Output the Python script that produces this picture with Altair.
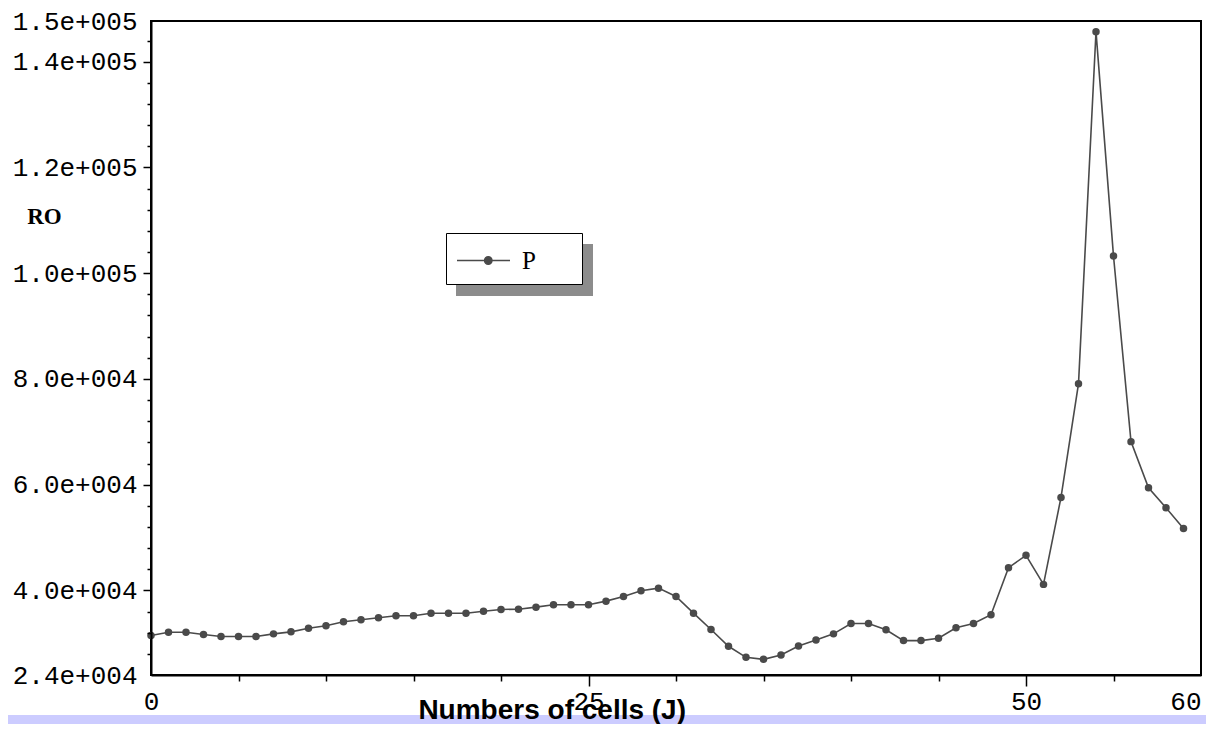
import altair as alt
import pandas as pd

# ---------------- data ----------------
cells = list(range(60))
ro_values = [
    31460, 32080, 32080, 31650, 31270, 31270, 31270, 31780, 32160, 32840,
    33300, 34060, 34440, 34820, 35200, 35200, 35690, 35690, 35690, 36070,
    36400, 36450, 36830, 37280, 37280, 37280, 37970, 38860, 39940, 40430,
    38860, 35690, 32600, 29430, 27340, 26960, 27800, 29500, 30640, 31780,
    33730, 33730, 32540, 30510, 30510, 30950, 32920, 33730, 35390, 44300,
    46640, 41140, 57590, 79090, 145680, 103250, 68140, 59410, 55620, 51700,
]
series = ["P"] * len(cells)

x_domain = [0, 60]
x_major_ticks = [0, 25, 50, 60]
x_minor_ticks = [5, 10, 15, 20, 30, 35, 40, 45, 55]

y_domain = [24000, 147700]
y_label_values = [24000, 40000, 60000, 80000, 100000, 120000, 140000, 147700]
y_label_texts = ["2.4e+004", "4.0e+004", "6.0e+004", "8.0e+004",
                 "1.0e+005", "1.2e+005", "1.4e+005", "1.5e+005"]
y_minor_ticks = [v for v in range(28000, 144001, 4000) if v not in y_label_values]

df = pd.DataFrame({"J": cells, "RO": ro_values, "series": series})

# ---------------- axis helpers ----------------
y_label_expr = " : ".join(
    f"datum.value == {v} ? '{t}'" for v, t in zip(y_label_values, y_label_texts)
) + " : ''"
y_hidden_test = f"datum.value == {y_label_values[0]} || datum.value == {y_label_values[-1]}"

LAV = "#ccccff"
MONO = "Liberation Mono"
x_scale = alt.Scale(domain=x_domain, nice=False, zero=False)
y_scale = alt.Scale(domain=y_domain, nice=False, zero=False)

x_major = alt.X(
    "J:Q",
    scale=x_scale,
    axis=alt.Axis(
        orient="bottom",
        values=x_major_ticks,
        format="d",
        title="Numbers of cells (J)",
        titleFont="Liberation Sans",
        titleFontWeight="bold",
        titleFontSize=28,
        titleColor="black",
        titleX=400.7,
        titleY=43.7,
        titleAlign="center",
        titleBaseline="alphabetic",
        labelFont=MONO,
        labelFontSize=26,
        labelColor="black",
        labelPadding=2,
        labelFlush=False,
        labelOverlap=False,
        labelAlign={"condition": {"test": "datum.value == 60", "value": "right"}, "value": "center"},
        tickSize=11,
        tickOpacity={"condition": {"test": "datum.value == 0 || datum.value == 60", "value": 0}, "value": 1},
        tickColor="black",
        tickWidth=1.5,
        domainColor="black",
        domainWidth=2,
        grid=False,
        zindex=1,
    ),
)

y_major = alt.Y(
    "RO:Q",
    scale=y_scale,
    axis=alt.Axis(
        orient="left",
        values=y_label_values,
        labelExpr=y_label_expr,
        title="RO",
        titleFont="Liberation Serif",
        titleFontWeight="bold",
        titleFontSize=23,
        titleColor="black",
        titleAngle=0,
        titleAlign="left",
        titleBaseline="alphabetic",
        titleX=-124.3,
        titleY=202.3,
        labelFont=MONO,
        labelFontSize=26,
        labelColor="black",
        labelPadding=6,
        labelOverlap=False,
        labelFlush=False,
        tickSize=8,
        tickOpacity={"condition": {"test": y_hidden_test, "value": 0}, "value": 1},
        tickColor="black",
        tickWidth=1.5,
        domainColor="black",
        domainWidth=2,
        grid=False,
        zindex=1,
    ),
)

x_minor = alt.X(
    "J:Q",
    scale=x_scale,
    axis=alt.Axis(orient="bottom", values=x_minor_ticks, labels=False, domain=False,
                  title=None, tickSize=6, tickColor="black", tickWidth=1.5,
                  grid=False, zindex=1),
)
y_minor = alt.Y(
    "RO:Q",
    scale=y_scale,
    axis=alt.Axis(orient="left", values=y_minor_ticks, labels=False, domain=False,
                  title=None, tickSize=4, tickColor="black", tickWidth=1.5,
                  grid=False, zindex=1),
)

# legend symbol: line with a dot, plus an invisible move-to that sizes the legend box
legend_symbol = ("M-1,0H1M0.04,0A0.14,0.14,0,1,1,0.32,0"
                 "A0.14,0.14,0,1,1,0.04,0ZM3.57,0.75")

color_enc = alt.Color(
    "series:N",
    scale=alt.Scale(range=["#4a4a4a"]),
    legend=alt.Legend(
        title=None,
        orient="none",
        legendX=295,
        legendY=212,
        fillColor="white",
        strokeColor="black",
        padding=0,
        symbolType=legend_symbol,
        symbolSize=2809,
        symbolOffset=10,
        symbolStrokeWidth=1.5,
        symbolFillColor="#4a4a4a",
        symbolStrokeColor="#4a4a4a",
        labelFont="Liberation Serif",
        labelFontSize=25,
        labelColor="black",
        labelOffset=11,
        zindex=1,
    ),
)

base = alt.Chart(df)

# lavender strip under the white panel
strip = alt.Chart(pd.DataFrame({"k": [0]})).mark_rect(fill=LAV).encode(
    x=alt.value(-143), x2=alt.value(1055), y=alt.value(694), y2=alt.value(703)
)

# legend drop shadow
shadow = alt.Chart(pd.DataFrame({"k": [0]})).mark_rect(fill="#8c8c8c").encode(
    x=alt.value(305), x2=alt.value(442), y=alt.value(223), y2=alt.value(275)
)

line = base.mark_line(strokeWidth=1.6).encode(x=x_major, y=y_major, color=color_enc)
points = base.mark_point(filled=True, size=56, opacity=1, shape="circle").encode(
    x=x_minor, y=y_minor, color=alt.Color("series:N")
)

chart = (
    alt.layer(strip, shadow, line, points)
    .resolve_axis(x="independent", y="independent")
    .properties(
        width=1050,
        height=654,
        autosize="none",
        padding={"left": 143, "top": 13, "right": 5, "bottom": 49},
        background="white",
    )
    .configure_view(stroke="black", strokeWidth=2, fill="white")
)

chart.save("out.html", embed_options={"renderer": "svg", "actions": False})
